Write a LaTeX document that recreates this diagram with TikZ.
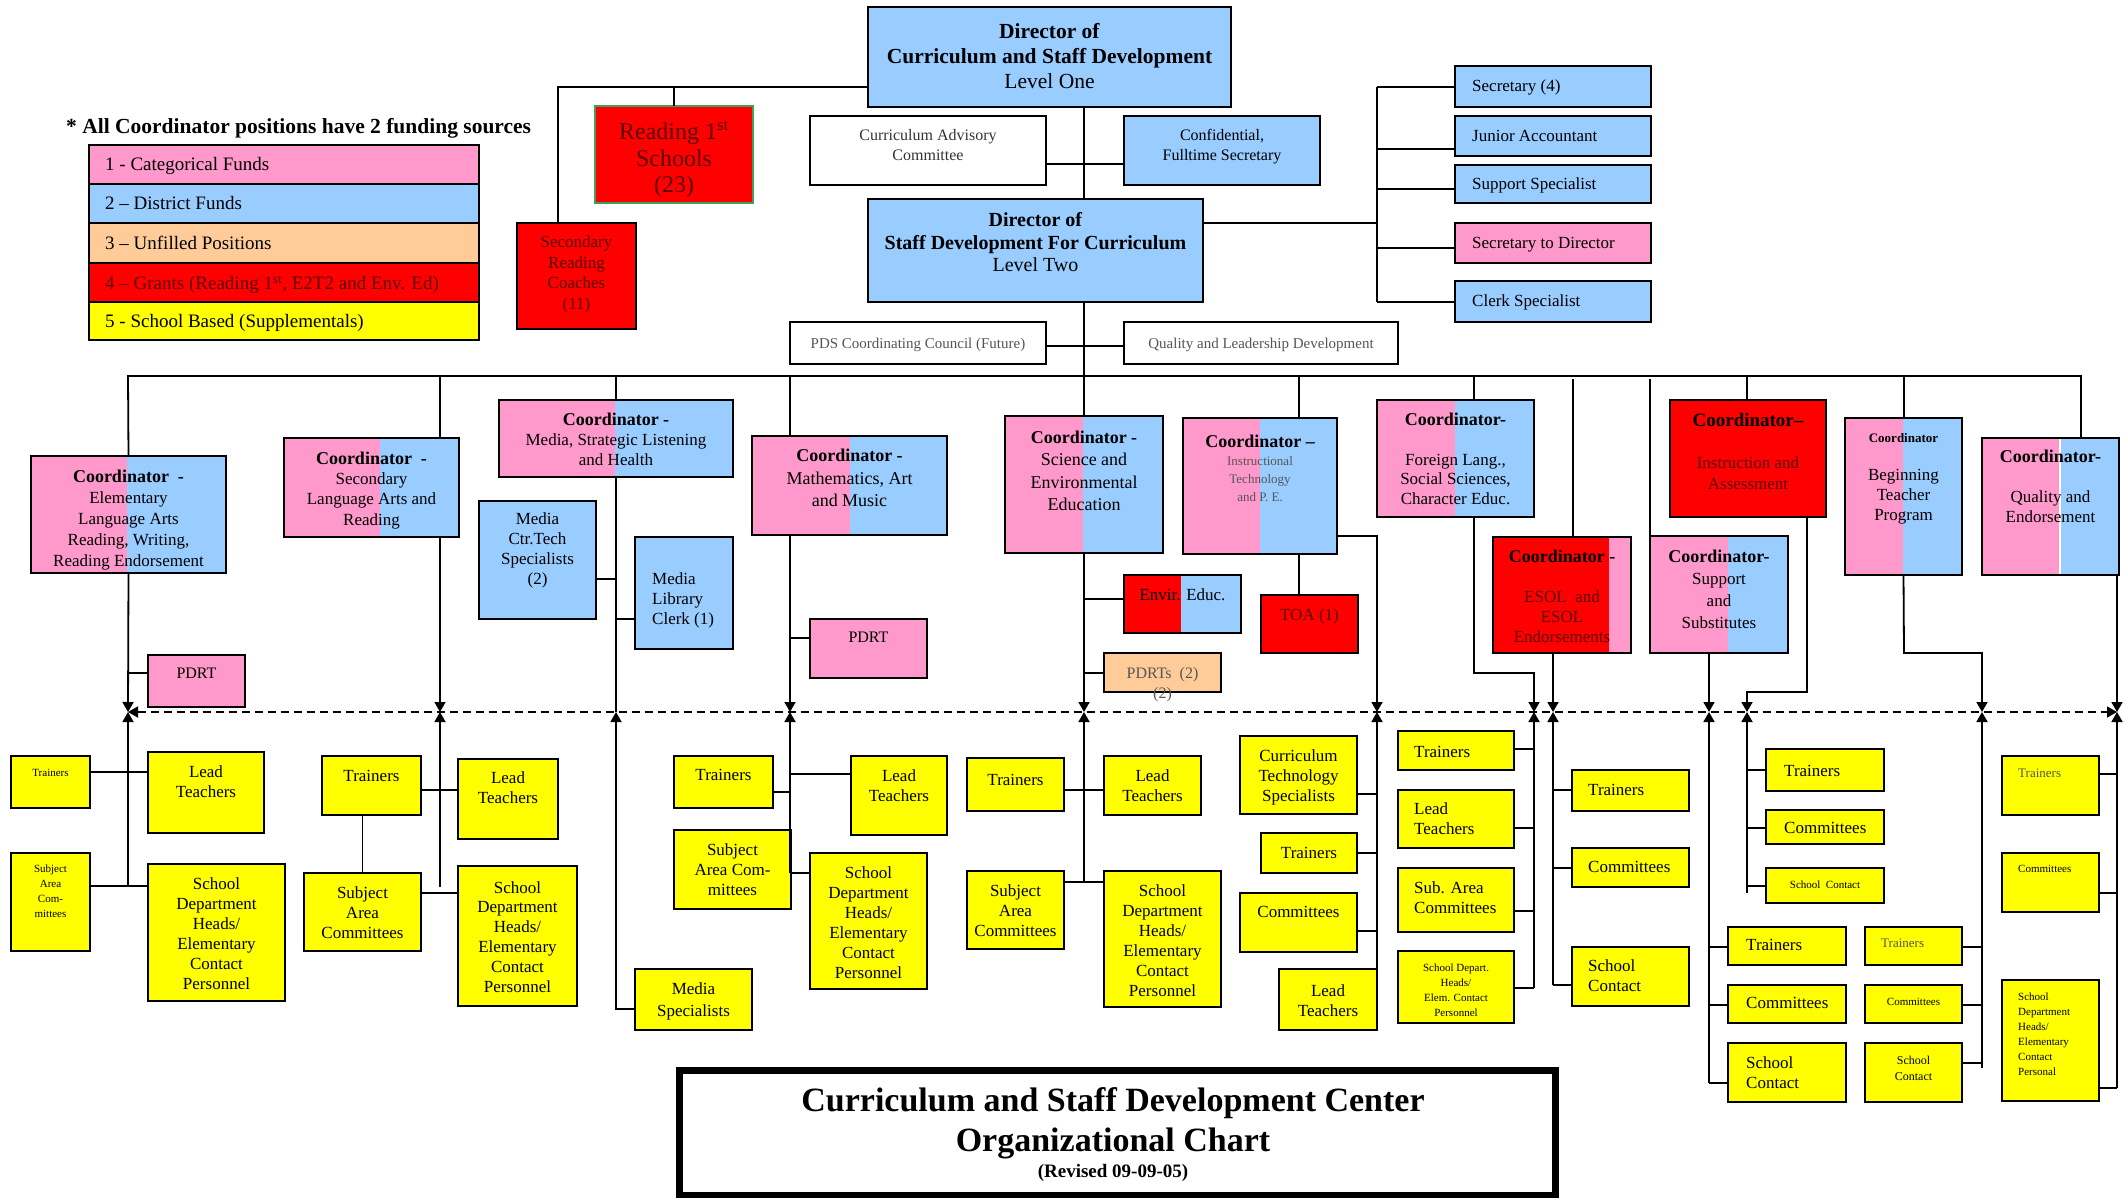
\documentclass[tikz,border=0pt]{standalone}
\usepackage{fontspec}
\setmainfont{Liberation Serif}
\usetikzlibrary{arrows.meta}
\definecolor{pk}{HTML}{FF99CC}
\definecolor{bl}{HTML}{99CCFF}
\definecolor{pe}{HTML}{FFCC99}
\definecolor{rd}{HTML}{FF0000}
\definecolor{yl}{HTML}{FFFF00}
\definecolor{rt}{HTML}{5A0000}
\definecolor{gt}{HTML}{555555}
\definecolor{grn}{HTML}{3CA05A}
\tikzset{
  bx/.style={draw=black,line width=2pt,inner sep=0pt,outer sep=0pt},
  ln/.style={line width=1.8pt},
  ar/.style={line width=1.8pt,-{Triangle[length=10pt,width=11pt]}},
  tx/.style={align=center,inner sep=0pt},
  txl/.style={align=left,inner sep=0pt},
  F/.style 2 args={font=\fontsize{#1}{#2}\selectfont},
}
\newcommand{\fsz}[2]{\fontsize{#1}{#2}\selectfont}
\newcommand{\cbold}[1]{{\bfseries\fontsize{18}{18}\selectfont #1}}
\newcommand{\smg}[1]{{\fontsize{13}{13}\selectfont\color{gt}#1}}
\newcommand{\bxc}[9]{%
  \node[bx,#6,anchor=north west,minimum width={#4pt-#2pt},minimum height={#5pt-#3pt}] (#1) at (#2,-#3) {};
  \node[tx,#7,anchor=north] (#1t) at ({(#2+#4)/2},-#8) {#9};}
\newcommand{\bxl}[9]{%
  \node[bx,#6,anchor=north west,minimum width={#4pt-#2pt},minimum height={#5pt-#3pt}] (#1) at (#2,-#3) {};
  \node[txl,#7,anchor=north west] (#1t) at (#8) {#9};}
\newcommand{\spf}[7]{\fill[#6] (#1,-#2) rectangle (#5,-#4); \fill[#7] (#5,-#2) rectangle (#3,-#4);}
\begin{document}
\begin{tikzpicture}[x=1pt,y=1pt]
\useasboundingbox (0,0) rectangle (2123,-1198);
\fill[white] (0,0) rectangle (2123,-1198);

% ---------- legend ----------
\node[anchor=west,inner sep=0pt,font=\bfseries\fsz{21.5}{24}] (legT) at (66,-128) {* All Coordinator positions have 2 funding sources};
\bxl{lg1}{89}{145}{479}{184}{fill=pk}{F={19}{22}}{105,-157.5}{1 - Categorical Funds}
\bxl{lg2}{89}{184}{479}{223}{fill=bl}{F={19}{22}}{105,-196.5}{2 – District Funds}
\bxl{lg3}{89}{223}{479}{263}{fill=pe}{F={19}{22}}{105,-236}{3 – Unfilled Positions}
\bxl{lg4}{89}{263}{479}{302}{fill=rd}{F={19}{22},text=rt}{105,-275.5}{4 – Grants (Reading 1\textsuperscript{st}, E2T2 and Env. Ed)}
\bxl{lg5}{89}{302}{479}{340}{fill=yl}{F={19}{22}}{105,-314}{5 - School Based (Supplementals)}

% ---------- top ----------
\bxc{rd1}{595}{106}{753}{203}{fill=rd,draw=grn,line width=1.5pt}{F={24}{26.5},text=rt}{121}{Reading 1\textsuperscript{st}\\Schools\\(23)}
\bxc{secRd}{517}{223}{636}{329}{fill=rd}{F={17}{20.5},text=rt}{236}{Secondary\\Reading\\Coaches\\(11)}
\bxc{dir1}{868}{7}{1231}{107}{fill=bl}{F={21.5}{25}}{23}{\textbf{Director of}\\\textbf{Curriculum and Staff Development}\\Level One}
\bxc{cac}{810}{116}{1046}{185}{fill=white}{F={16}{20},text=black!80}{129}{Curriculum Advisory\\Committee}
\bxc{conf}{1124}{116}{1320}{185}{fill=bl}{F={16}{20}}{129}{Confidential,\\Fulltime Secretary}
\bxc{dir2}{868}{199}{1203}{302}{fill=bl}{F={20}{22.5}}{212.5}{\textbf{Director of}\\\textbf{Staff Development For Curriculum}\\Level Two}
\bxl{sec4}{1455}{66}{1651}{107}{fill=bl}{F={17}{20}}{1472,-80}{Secretary (4)}
\bxl{jacc}{1455}{116}{1651}{156}{fill=bl}{F={17}{20}}{1472,-130}{Junior Accountant}
\bxl{sspec}{1455}{165}{1651}{203}{fill=bl}{F={17}{20}}{1472,-178}{Support Specialist}
\bxl{secdir}{1455}{223}{1651}{263}{fill=pk}{F={17}{20}}{1472,-237}{Secretary to Director}
\bxl{clerk}{1455}{281}{1651}{322}{fill=bl}{F={17}{20}}{1472,-295}{Clerk Specialist}
\bxc{pds}{790}{322}{1046}{364}{fill=white}{F={15}{18},text=gt}{337.5}{PDS Coordinating Council (Future)}
\bxc{ql}{1124}{322}{1398}{364}{fill=white}{F={15}{18},text=gt}{337.5}{Quality and Leadership Development}

% ---------- coordinators ----------
\spf{31}{456}{226}{573}{127}{pk}{bl}
\bxc{elem}{31}{456}{226}{573}{}{F={17}{21}}{470}{\cbold{Coordinator \ -}\\Elementary\\Language Arts\\Reading, Writing,\\Reading Endorsement}
\spf{284}{438}{459}{537}{380}{pk}{bl}
\bxc{secLA}{284}{438}{459}{537}{}{F={17}{20.3}}{451.5}{\cbold{Coordinator \ -}\\Secondary\\Language Arts and\\Reading}
\spf{499}{400}{733}{477}{615}{pk}{bl}
\bxc{media}{499}{400}{733}{477}{}{F={17}{20}}{412.5}{\cbold{Coordinator -}\\Media, Strategic Listening\\and Health}
\spf{752}{436}{947}{535}{850}{pk}{bl}
\bxc{math}{752}{436}{947}{535}{}{F={18}{22.5}}{449}{\cbold{Coordinator -}\\Mathematics, Art\\and Music}
\spf{1005}{416}{1163}{553}{1083}{pk}{bl}
\bxc{sci}{1005}{416}{1163}{553}{}{F={18}{22.3}}{431}{\cbold{Coordinator -}\\Science and\\Environmental\\Education}
\spf{1183}{418}{1337}{554}{1260}{pk}{bl}
\bxc{it}{1183}{418}{1337}{554}{}{F={18}{18}}{434.5}{\cbold{Coordinator –}\\\smg{Instructional}\\\smg{Technology}\\\smg{and P. E.}}
\spf{1377}{400}{1534}{517}{1455}{pk}{bl}
\bxc{fl}{1377}{400}{1534}{517}{}{F={17}{19.7}}{413}{\cbold{Coordinator-}\\[19.7pt]Foreign Lang.,\\Social Sciences,\\Character Educ.}
\spf{1493}{537}{1631}{653}{1609}{rd}{pk}
\bxc{es}{1493}{537}{1631}{653}{}{F={17}{20},text=rt}{549.5}{\cbold{\color{black}Coordinator -}\\[20pt]ESOL \ and\\ESOL\\Endorsements}
\spf{1650}{536}{1788}{653}{1728}{pk}{bl}
\bxc{su}{1650}{536}{1788}{653}{}{F={17}{22}}{549.5}{\cbold{Coordinator-}\\Support\\and\\Substitutes}
\bxc{ia}{1670}{400}{1826}{517}{fill=rd}{F={17}{21},text=rt}{413}{{\bfseries\fsz{19}{19}\color{black}Coordinator–}\\[21pt]Instruction and\\Assessment}
\spf{1845}{418}{1962}{575}{1903}{pk}{bl}
\bxc{bt}{1845}{418}{1962}{575}{}{F={17}{20}}{433}{{\bfseries\fsz{13}{13}Coordinator}\\[18pt]Beginning\\Teacher\\Program}
\spf{1982}{438}{2119}{575}{2060}{pk}{bl}
\draw[white,line width=2.5pt] (2060,-439) -- (2060,-574);
\bxc{qual}{1982}{438}{2119}{575}{}{F={17}{20}}{450}{\cbold{Coordinator-}\\[20pt]Quality and\\Endorsement}

% ---------- middle boxes ----------
\bxc{pdrtE}{148}{655}{245}{707}{fill=pk}{F={16}{19}}{668}{PDRT}
\bxc{mctr}{479}{501}{596}{619}{fill=bl}{F={17}{20}}{513}{Media\\Ctr.Tech\\Specialists\\(2)}
\bxl{mclerk}{635}{537}{733}{649}{fill=bl}{F={17}{20}}{652,-573}{Media\\Library\\Clerk (1)}
\bxc{mpdrt}{810}{619}{927}{678}{fill=pk}{F={16}{19}}{632}{PDRT}
\spf{1124}{575}{1241}{633}{1181}{rd}{bl}
\bxc{env}{1124}{575}{1241}{633}{}{F={17}{20}}{588.5}{Envir. Educ.}
\bxc{pdrts}{1104}{653}{1221}{692}{fill=pe}{F={16}{20},text=gt}{667}{PDRTs \ (2)\\(2)}
\bxc{toa}{1261}{595}{1358}{653}{fill=rd}{F={17}{20},text=rt}{609}{TOA (1)}

% ---------- bottom boxes ----------
\bxc{trE}{11}{756}{90}{808}{fill=yl}{F={11}{14}}{769}{Trainers}
\bxc{ltE}{148}{752}{264}{833}{fill=yl}{F={17}{20}}{765}{Lead\\Teachers}
\bxc{saE}{11}{853}{90}{951}{fill=yl}{F={11}{15}}{865}{Subject\\Area\\Com-\\mittees}
\bxc{sdE}{148}{864}{285}{1001}{fill=yl}{F={17}{20}}{877}{School\\Department\\Heads/\\Elementary\\Contact\\Personnel}
\bxc{trS}{322}{756}{421}{815}{fill=yl}{F={17}{20}}{770}{Trainers}
\bxc{ltS}{458}{759}{558}{839}{fill=yl}{F={17}{20}}{771}{Lead\\Teachers}
\bxc{saS}{304}{873}{421}{951}{fill=yl}{F={17}{20}}{886}{Subject\\Area\\Committees}
\bxc{sdS}{458}{866}{577}{1006}{fill=yl}{F={17}{19.8}}{881}{School\\Department\\Heads/\\Elementary\\Contact\\Personnel}
\bxc{mspec}{635}{969}{752}{1030}{fill=yl}{F={17}{22}}{982}{Media\\Specialists}
\bxc{trMa}{674}{756}{773}{808}{fill=yl}{F={17}{20}}{769}{Trainers}
\bxc{ltMa}{851}{756}{947}{835}{fill=yl}{F={17}{20}}{769}{Lead\\Teachers}
\bxc{saMa}{674}{830}{791}{909}{fill=yl}{F={17}{20}}{843}{Subject\\Area Com-\\mittees}
\bxc{sdMa}{810}{853}{927}{989}{fill=yl}{F={17}{20}}{866}{School\\Department\\Heads/\\Elementary\\Contact\\Personnel}
\bxc{trSc}{967}{758}{1064}{811}{fill=yl}{F={17}{20}}{774}{Trainers}
\bxc{ltSc}{1104}{756}{1201}{815}{fill=yl}{F={17}{20}}{769}{Lead\\Teachers}
\bxc{saSc}{967}{871}{1064}{949}{fill=yl}{F={17}{20}}{884}{Subject\\Area\\Committees}
\bxc{sdSc}{1104}{871}{1221}{1007}{fill=yl}{F={17}{20}}{884}{School\\Department\\Heads/\\Elementary\\Contact\\Personnel}
\bxc{cts}{1240}{736}{1357}{814}{fill=yl}{F={17}{20}}{749}{Curriculum\\Technology\\Specialists}
\bxc{trIT}{1261}{833}{1357}{873}{fill=yl}{F={17}{20}}{847}{Trainers}
\bxc{cmIT}{1240}{893}{1357}{952}{fill=yl}{F={17}{20}}{906}{Committees}
\bxc{ltIT}{1279}{969}{1377}{1030}{fill=yl}{F={17}{20}}{984}{Lead\\Teachers}
\bxl{trFL}{1398}{731}{1514}{770}{fill=yl}{F={17}{20}}{1414,-746}{Trainers}
\bxl{ltFL}{1398}{790}{1514}{848}{fill=yl}{F={17}{20}}{1414,-802}{Lead\\Teachers}
\bxl{saFL}{1398}{868}{1514}{932}{fill=yl}{F={17}{20}}{1414,-881}{Sub. Area\\Committees}
\bxc{sdFL}{1398}{951}{1514}{1023}{fill=yl}{F={11}{15}}{964}{School Depart.\\Heads/\\Elem. Contact\\Personnel}
\bxl{trES}{1572}{770}{1689}{811}{fill=yl}{F={17}{20}}{1588,-784}{Trainers}
\bxl{cmES}{1572}{848}{1689}{887}{fill=yl}{F={17}{20}}{1588,-861}{Committees}
\bxl{scES}{1572}{947}{1689}{1006}{fill=yl}{F={17}{20}}{1588,-959}{School\\Contact}
\bxl{trSu}{1728}{927}{1846}{965}{fill=yl}{F={17}{20}}{1746,-939}{Trainers}
\bxl{cmSu}{1728}{985}{1846}{1023}{fill=yl}{F={17}{20}}{1746,-997}{Committees}
\bxl{scSu}{1728}{1043}{1846}{1102}{fill=yl}{F={17}{20}}{1746,-1056}{School\\Contact}
\bxl{trIA}{1766}{749}{1884}{791}{fill=yl}{F={17}{20}}{1784,-765}{Trainers}
\bxl{cmIA}{1766}{810}{1884}{844}{fill=yl}{F={17}{20}}{1784,-822}{Committees}
\bxc{scIA}{1766}{868}{1884}{903}{fill=yl}{F={11}{14}}{881}{School \ Contact}
\bxl{trBT}{1865}{927}{1962}{965}{fill=yl}{F={13}{16},text=gt}{1881,-939}{Trainers}
\bxc{cmBT}{1865}{985}{1962}{1023}{fill=yl}{F={11}{14}}{998}{Committees}
\bxc{scBT}{1865}{1043}{1962}{1102}{fill=yl}{F={12}{16}}{1055.5}{School\\Contact}
\bxl{trQ}{2002}{756}{2099}{815}{fill=yl}{F={13}{16},text=gt}{2018,-769}{Trainers}
\bxl{cmQ}{2002}{853}{2099}{912}{fill=yl}{F={11}{14}}{2018,-865}{Committees}
\bxl{sdQ}{2002}{980}{2099}{1101}{fill=yl}{F={11}{15}}{2018,-993}{School\\Department\\Heads/\\Elementary\\Contact\\Personal}

% ---------- title ----------
\node[draw,line width=7pt,anchor=north west,minimum width=876pt,minimum height=125pt,inner sep=0pt] (title) at (675.5,-1066.5) {};
\node[tx,font=\fsz{34}{40}\bfseries,anchor=north] (titlet) at (1113,-1087) {Curriculum and Staff Development Center\\Organizational Chart\\[-14pt]{\fsz{19}{19}(Revised 09-09-05)}};

% ---------- connectors: top ----------
\draw[ln] (dir1.west |- 0,-87) -- (558,-87) -- (secRd.north -| 558,0);
\draw[ln] (rd1.north |- 0,-87) -- (rd1.north);
\draw[ln] (dir1.south -| 1084,0) -- (dir2.north -| 1084,0);
\draw[ln] (cac.east |- 0,-164) -- (conf.west |- 0,-164);
\draw[ln] (dir2.east |- 0,-223) -- (1377,-223);
\draw[ln] (1377,-87) -- (1377,-302);
\draw[ln] (1377,-87) -- (sec4.west |- 0,-87);
\draw[ln] (1377,-149) -- (jacc.west |- 0,-149);
\draw[ln] (1377,-189) -- (sspec.west |- 0,-189);
\draw[ln] (1377,-248) -- (secdir.west |- 0,-248);
\draw[ln] (1377,-302) -- (clerk.west |- 0,-302);
\draw[ln] (pds.east |- 0,-346) -- (ql.west |- 0,-346);
\draw[ln] (dir2.south -| 1084,0) -- (sci.north);

% bus
\draw[ln] (elem.north) -- (128,-376) -- (2081,-376) -- (qual.north -| 2081,0);
\draw[ln] (440,-376) -- (secLA.north -| 440,0);
\draw[ln] (616,-376) -- (media.north -| 616,0);
\draw[ln] (790,-376) -- (math.north -| 790,0);
\draw[ln] (1299,-376) -- (it.north -| 1299,0);
\draw[ln] (1474,-376) -- (fl.north -| 1474,0);
\draw[ln] (1573,-379) -- (es.north -| 1573,0);
\draw[ln] (1650,-379) -- (su.north -| 1650,0);
\draw[ln] (1747,-376) -- (ia.north -| 1747,0);
\draw[ln] (1904,-376) -- (bt.north -| 1904,0);

% dashed line
\draw[ln,dash pattern=on 8pt off 5pt,{Triangle[length=10pt,width=11pt]}-{Triangle[length=10pt,width=11pt]}] (128,-712) -- (2117,-712);

% down arrows
\draw[ar] (elem.south) -- (128,-712);
\draw[ar] (secLA.south -| 440,0) -- (440,-712);
\draw[ln] (media.south -| 616,0) -- (616,-712);
\draw[ar] (math.south -| 790,0) -- (790,-712);
\draw[ar] (sci.south) -- (1084,-712);
\draw[ar] (it.east |- 0,-536) -- (1377,-536) -- (1377,-712);
\draw[ar] (fl.south -| 1474,0) -- (1474,-673) -- (1534,-673) -- (1534,-712);
\draw[ar] (es.south -| 1553,0) -- (1553,-712);
\draw[ar] (su.south -| 1709,0) -- (1709,-712);
\draw[ar] (ia.south -| 1807,0) -- (1807,-692) -- (1747,-692) -- (1747,-712);
\draw[ar] (bt.south) -- (1904,-653) -- (1982,-653) -- (1982,-712);
\draw[ar] (qual.south -| 2117,0) -- (2117,-712);

% side branches
\draw[ln] (128,-673) -- (pdrtE.west |- 0,-673);
\draw[ln] (mctr.east |- 0,-579) -- (616,-579);
\draw[ln] (616,-619) -- (mclerk.west |- 0,-619);
\draw[ln] (790,-638) -- (mpdrt.west |- 0,-638);
\draw[ln] (1084,-599) -- (env.west |- 0,-599);
\draw[ln] (1084,-673) -- (pdrts.west |- 0,-673);
\draw[ln] (it.south -| 1299,0) -- (toa.north -| 1299,0);

% up arrows from bottom columns
\draw[ar] (128,-886) -- (128,-712);
\draw[ar] (440,-887) -- (440,-712);
\draw[ar] (mspec.west |- 0,-1009) -- (616,-1009) -- (616,-712);
\draw[ar] (790,-873) -- (790,-712);
\draw[ar] (1084,-882) -- (1084,-712);
\draw[ar] (ltIT.south east) -- (1377,-712);
\draw[ar] (1534,-988) -- (1534,-712);
\draw[ar] (1553,-985) -- (1553,-712);
\draw[ar] (1709,-1083) -- (1709,-712);
\draw[ar] (1747,-893) -- (1747,-712);
\draw[ar] (1982,-1068) -- (1982,-712);
\draw[ar] (2117,-1088) -- (2117,-712);

% bottom branches
\draw[ln] (trE.east |- 0,-772) -- (ltE.west |- 0,-772);
\draw[ln] (saE.east |- 0,-886) -- (sdE.west |- 0,-886);
\draw[ln] (trS.east |- 0,-790) -- (ltS.west |- 0,-790);
\draw[ln] (saS.north |- trS.south) -- (saS.north);
\draw[ln] (saS.east |- 0,-893) -- (sdS.west |- 0,-893);
\draw[ln] (trMa.east |- 0,-792) -- (790,-792);
\draw[ln] (790,-774) -- (ltMa.west |- 0,-774);
\draw[ln] (saMa.east |- 0,-873) -- (sdMa.west |- 0,-873);
\draw[ln] (trSc.east |- 0,-790) -- (ltSc.west |- 0,-790);
\draw[ln] (saSc.east |- 0,-882) -- (sdSc.west |- 0,-882);
\draw[ln] (cts.east |- 0,-794) -- (1377,-794);
\draw[ln] (trIT.east |- 0,-853) -- (1377,-853);
\draw[ln] (cmIT.east |- 0,-931) -- (1377,-931);
\draw[ln] (trFL.east |- 0,-749) -- (1534,-749);
\draw[ln] (ltFL.east |- 0,-828) -- (1534,-828);
\draw[ln] (saFL.east |- 0,-911) -- (1534,-911);
\draw[ln] (sdFL.east |- 0,-988) -- (1534,-988);
\draw[ln] (1553,-790) -- (trES.west |- 0,-790);
\draw[ln] (1553,-868) -- (cmES.west |- 0,-868);
\draw[ln] (1553,-985) -- (scES.west |- 0,-985);
\draw[ln] (1709,-947) -- (trSu.west |- 0,-947);
\draw[ln] (1709,-1005) -- (cmSu.west |- 0,-1005);
\draw[ln] (1709,-1083) -- (scSu.west |- 0,-1083);
\draw[ln] (1747,-770) -- (trIA.west |- 0,-770);
\draw[ln] (1747,-828) -- (cmIA.west |- 0,-828);
\draw[ln] (1747,-886) -- (scIA.west |- 0,-886);
\draw[ln] (trBT.east |- 0,-947) -- (1982,-947);
\draw[ln] (cmBT.east |- 0,-1005) -- (1982,-1005);
\draw[ln] (scBT.east |- 0,-1063) -- (1982,-1063);
\draw[ln] (trQ.east |- 0,-774) -- (2117,-774);
\draw[ln] (cmQ.east |- 0,-893) -- (2117,-893);
\draw[ln] (sdQ.east |- 0,-1088) -- (2117,-1088);
\end{tikzpicture}
\end{document}
